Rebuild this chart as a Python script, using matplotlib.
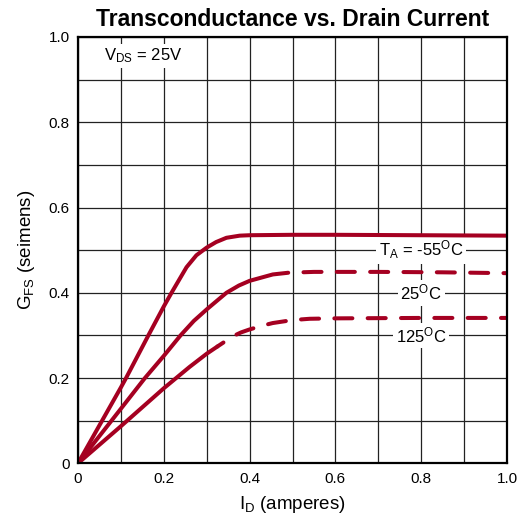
import numpy as np
import matplotlib
matplotlib.use("Agg")
import matplotlib.pyplot as plt

matplotlib.rcParams['font.family'] = ['Liberation Sans', 'DejaVu Sans']
matplotlib.rcParams['mathtext.default'] = 'regular'
matplotlib.rcParams['lines.scale_dashes'] = False

# data
id_m55 = [0, 0.10, 0.112, 0.164, 0.20, 0.218, 0.253, 0.276, 0.30, 0.322, 0.346, 0.377, 0.40, 0.50, 0.60, 0.80, 1.00]
gfs_m55 = [0, 0.178, 0.20, 0.30, 0.368, 0.40, 0.46, 0.488, 0.506, 0.519, 0.529, 0.534, 0.535, 0.536, 0.536, 0.535, 0.534]

id_25 = [0, 0.10, 0.156, 0.20, 0.239, 0.27, 0.30, 0.346, 0.375, 0.40, 0.454, 0.49, 0.55, 0.70, 0.85, 1.00]
gfs_25 = [0, 0.128, 0.20, 0.252, 0.30, 0.334, 0.361, 0.40, 0.417, 0.428, 0.443, 0.447, 0.449, 0.449, 0.448, 0.446]
solid_25 = 11  # solid up to this index, dashed after

id_125 = [0, 0.10, 0.20, 0.26, 0.30, 0.325, 0.361, 0.38, 0.40, 0.43, 0.454, 0.50, 0.54, 0.60, 0.80, 1.00]
gfs_125 = [0, 0.087, 0.176, 0.226, 0.257, 0.274, 0.298, 0.307, 0.314, 0.323, 0.329, 0.336, 0.339, 0.340, 0.341, 0.341]
solid_125 = 5

xticks = [0, 0.2, 0.4, 0.6, 0.8, 1.0]
xticklabels = ["0", "0.2", "0.4", "0.6", "0.8", "1.0"]
yticks = [0, 0.2, 0.4, 0.6, 0.8, 1.0]
yticklabels = ["0", "0.2", "0.4", "0.6", "0.8", "1.0"]

red = "#A50021"
lw = 2.9
dash = (13, 11)

fig = plt.figure(figsize=(5.19, 5.20), dpi=100)
ax = fig.add_axes([78/519, 56.7/520, 429/519, 426.3/520])

ax.plot(id_m55, gfs_m55, color=red, lw=lw, solid_capstyle='round', solid_joinstyle='round', zorder=5)

ax.plot(id_25[:solid_25+1], gfs_25[:solid_25+1], color=red, lw=lw,
        solid_capstyle='round', solid_joinstyle='round', zorder=5)
ax.plot(id_25[solid_25:], gfs_25[solid_25:], color=red, lw=lw, linestyle=(dash[0], dash),
        dash_capstyle='round', zorder=5)

ax.plot(id_125[:solid_125+1], gfs_125[:solid_125+1], color=red, lw=lw,
        solid_capstyle='round', solid_joinstyle='round', zorder=5)
ax.plot(id_125[solid_125:], gfs_125[solid_125:], color=red, lw=lw, linestyle=(dash[0]*0.6, dash),
        dash_capstyle='round', zorder=5)

ax.set_xlim(0, 1.0)
ax.set_ylim(0, 1.0)
ax.set_xticks(xticks)
ax.set_xticklabels(xticklabels)
ax.set_yticks(yticks)
ax.set_yticklabels(yticklabels)
ax.set_xticks(np.arange(0.1, 1.0, 0.2), minor=True)
ax.set_yticks(np.arange(0.1, 1.0, 0.2), minor=True)
ax.tick_params(which='both', length=0, labelsize=11)
ax.tick_params(axis='x', pad=6)
ax.tick_params(axis='y', pad=6)
ax.grid(which='both', color='#222222', lw=0.9, zorder=1)
ax.set_axisbelow(True)
for sp in ax.spines.values():
    sp.set_linewidth(1.6)
    sp.set_zorder(6)

box = dict(facecolor='white', edgecolor='none', pad=2)
ax.text(0.152, 0.956, r'V$_{DS}$ = 25V', fontsize=12, ha='center', va='center', bbox=box, zorder=3)
ax.text(0.80, 0.50, r'T$_{A}$ = -55$^{O}$C', fontsize=12, ha='center', va='center', bbox=box, zorder=3)
ax.text(0.80, 0.40, r'25$^{O}$C', fontsize=12, ha='center', va='center', bbox=box, zorder=3)
ax.text(0.80, 0.30, r'125$^{O}$C', fontsize=12, ha='center', va='center', bbox=box, zorder=3)

ax.set_title("Transconductance vs. Drain Current", fontsize=16.5, fontweight='bold', pad=8)
ax.set_xlabel(r'I$_{D}$ (amperes)', fontsize=13.5, labelpad=6)
ax.set_ylabel(r'G$_{FS}$ (seimens)', fontsize=13.5, labelpad=8)

fig.savefig("out.png", dpi=100)
